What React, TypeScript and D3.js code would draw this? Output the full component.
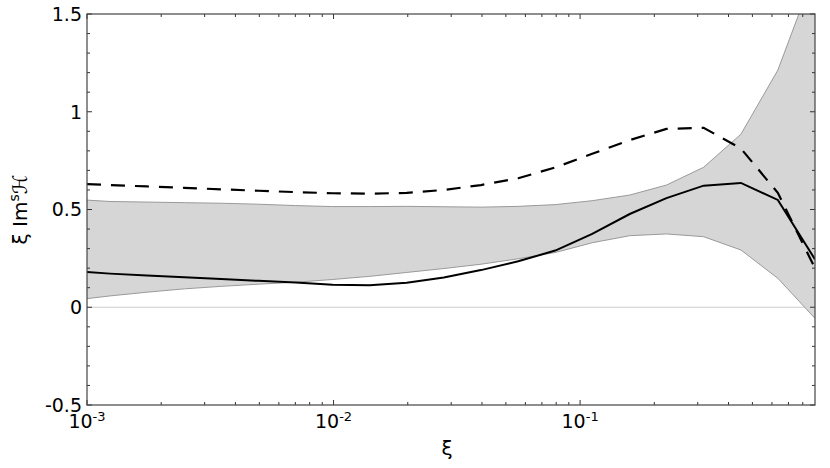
import React, { useEffect } from 'react';
import * as d3 from 'd3';

// xi grid (log spaced)
const xiValues = [0.001, 0.00124, 0.00175, 0.00248, 0.0035, 0.00496, 0.00701, 0.00991, 0.014, 0.0198, 0.028, 0.0396, 0.0561, 0.0793, 0.112, 0.159, 0.224, 0.317, 0.449, 0.634, 0.897];

// central curve (solid)
const solidValues = [0.180, 0.172, 0.163, 0.153, 0.144, 0.135, 0.126, 0.115, 0.112, 0.125, 0.152, 0.190, 0.235, 0.290, 0.375, 0.477, 0.558, 0.622, 0.636, 0.549, 0.245];

// model curve (dashed)
const dashedValues = [0.630, 0.625, 0.618, 0.611, 0.603, 0.596, 0.589, 0.583, 0.581, 0.585, 0.600, 0.625, 0.660, 0.715, 0.785, 0.855, 0.912, 0.918, 0.812, 0.585, 0.199];

// error band
const bandUpper = [0.548, 0.541, 0.538, 0.535, 0.532, 0.527, 0.520, 0.515, 0.515, 0.516, 0.514, 0.512, 0.516, 0.525, 0.545, 0.574, 0.625, 0.716, 0.885, 1.213, 1.72];
const bandLower = [0.044, 0.058, 0.077, 0.094, 0.107, 0.118, 0.128, 0.142, 0.158, 0.178, 0.198, 0.220, 0.248, 0.280, 0.330, 0.366, 0.375, 0.361, 0.293, 0.148, -0.057];

const yTickLabels = [-0.5, 0, 0.5, 1, 1.5];
const xMajorExps = [-3, -2, -1];

const W = 830;
const H = 468;
const margin = { left: 87, right: 15, top: 14, bottom: 63 };
const FONT = '"DejaVu Sans", sans-serif';

export default function App() {
  useEffect(() => {
    document.body.style.margin = '0';
  }, []);

  const x = d3.scaleLog().domain([1e-3, 0.897]).range([margin.left, W - margin.right]);
  const y = d3.scaleLinear().domain([-0.5, 1.5]).range([H - margin.bottom, margin.top]);
  const [x0, x1] = x.range();
  const [y0, y1] = y.range();

  const pts = xiValues.map((xi, i) => ({ xi, s: solidValues[i], d: dashedValues[i], hi: bandUpper[i], lo: bandLower[i] }));

  const area = d3.area<typeof pts[0]>().x(p => x(p.xi)).y0(p => y(p.lo)).y1(p => y(p.hi));
  const upper = d3.line<typeof pts[0]>().x(p => x(p.xi)).y(p => y(p.hi));
  const lower = d3.line<typeof pts[0]>().x(p => x(p.xi)).y(p => y(p.lo));
  const solid = d3.line<typeof pts[0]>().x(p => x(p.xi)).y(p => y(p.s));
  const dashed = d3.line<typeof pts[0]>().x(p => x(p.xi)).y(p => y(p.d));

  // y ticks every 0.1
  const yTicks = d3.range(-5, 16).map(k => k / 10);
  // x ticks: decades and 2..9 minors
  const xTicks: { v: number; major: boolean }[] = [];
  for (let e = -3; e <= -1; e++) {
    for (let k = 1; k <= 9; k++) {
      const v = k * Math.pow(10, e);
      if (v <= 0.897) xTicks.push({ v, major: k === 1 });
    }
  }

  return (
    <svg width={W} height={H} style={{ display: 'block', background: '#fff' }} fontFamily={FONT}>
      <defs>
        <clipPath id="plot">
          <rect x={x0} y={y1} width={x1 - x0} height={y0 - y1} />
        </clipPath>
      </defs>
      <g clipPath="url(#plot)">
        <line x1={x0} x2={x1} y1={y(0)} y2={y(0)} stroke="#cccccc" strokeWidth={1.2} />
        <path d={area(pts) || ''} fill="#d6d6d6" />
        <path d={upper(pts) || ''} fill="none" stroke="#9a9a9a" strokeWidth={1} />
        <path d={lower(pts) || ''} fill="none" stroke="#9a9a9a" strokeWidth={1} />
        <path d={dashed(pts) || ''} fill="none" stroke="#000" strokeWidth={2.2} strokeDasharray="14,10" />
        <path d={solid(pts) || ''} fill="none" stroke="#000" strokeWidth={2} />
      </g>

      {/* y ticks, left and right, inward */}
      {yTicks.map(t => {
        const major = Math.abs(t * 2 - Math.round(t * 2)) < 1e-6;
        const len = major ? 5 : 3;
        return (
          <g key={'y' + t}>
            <line x1={x0} x2={x0 + len} y1={y(t)} y2={y(t)} stroke="#333" strokeWidth={1} />
            <line x1={x1} x2={x1 - len} y1={y(t)} y2={y(t)} stroke="#333" strokeWidth={1} />
          </g>
        );
      })}
      {yTickLabels.map(t => (
        <text key={'yl' + t} x={x0 - 5} y={y(t)} dy="0.36em" textAnchor="end" fontSize={19} fill="#000">
          {String(t)}
        </text>
      ))}

      {/* x ticks, top and bottom, inward */}
      {xTicks.map(t => {
        const len = t.major ? 5 : 3;
        return (
          <g key={'x' + t.v}>
            <line x1={x(t.v)} x2={x(t.v)} y1={y0} y2={y0 - len} stroke="#333" strokeWidth={1} />
            <line x1={x(t.v)} x2={x(t.v)} y1={y1} y2={y1 + len} stroke="#333" strokeWidth={1} />
          </g>
        );
      })}
      {xMajorExps.map(e => (
        <text key={'xl' + e} x={x(Math.pow(10, e))} y={428} textAnchor="middle" fontSize={19} fill="#000">
          10<tspan fontSize={13} dy={-7}>{String(e)}</tspan>
        </text>
      ))}

      <rect x={x0} y={y1} width={x1 - x0} height={y0 - y1} fill="none" stroke="#444" strokeWidth={1.2} />

      <text x={(x0 + x1) / 2 - 4} y={455} textAnchor="middle" fontSize={20} fill="#000">ξ</text>
      <text transform={`translate(27,${(y0 + y1) / 2}) rotate(-90)`} textAnchor="middle" fontSize={20} fill="#000">
        ξ Im<tspan fontSize={14} dy={-8}>s</tspan><tspan dy={8}>ℋ</tspan>
      </text>
    </svg>
  );
}
